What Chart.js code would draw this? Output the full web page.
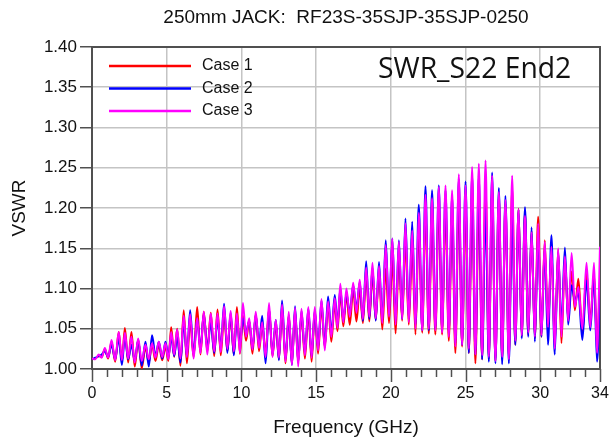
<!DOCTYPE html>
<html>
<head>
<meta charset="utf-8">
<script src="https://cdn.jsdelivr.net/npm/chart.js@4/dist/chart.umd.min.js"></script>
<style>
  html, body { margin: 0; padding: 0; background: #ffffff; }
  #wrap { width: 616px; height: 440px; }
</style>
</head>
<body>
<div id="wrap"><canvas id="c" width="616" height="440"></canvas></div>
<script>
// ---------- DATA ----------
const chartTitle = '250mm JACK:  RF23S-35SJP-35SJP-0250';
const plotLabel = 'SWR_S22 End2';
const xTitle = 'Frequency (GHz)';
const yTitle = 'VSWR';
const seriesNames = ['Case 1', 'Case 2', 'Case 3'];

const freqGHz = [
  0.00,0.22,0.45,0.65,0.86,1.08,1.31,1.55,1.79,2.00,
  2.20,2.42,2.64,2.86,3.09,3.33,3.58,3.80,4.02,4.25,
  4.47,4.70,4.92,5.11,5.30,5.50,5.70,5.92,6.14,6.35,
  6.57,6.80,7.04,7.26,7.48,7.72,7.95,8.18,8.40,8.62,
  8.84,9.06,9.28,9.49,9.70,9.90,10.10,10.31,10.52,10.74,
  10.96,11.18,11.39,11.62,11.85,12.08,12.30,12.51,12.72,12.95,
  13.17,13.38,13.59,13.80,14.02,14.25,14.48,14.70,14.91,15.13,
  15.36,15.58,15.80,16.02,16.25,16.43,16.62,16.82,17.03,17.25,
  17.48,17.70,17.92,18.13,18.35,18.56,18.77,18.99,19.21,19.43,
  19.66,19.88,20.10,20.32,20.54,20.76,20.98,21.20,21.43,21.65,
  21.87,22.10,22.32,22.54,22.76,22.98,23.21,23.43,23.66,23.88,
  24.10,24.32,24.55,24.77,25.00,25.22,25.44,25.66,25.89,26.11,
  26.34,26.56,26.78,27.00,27.23,27.45,27.67,27.90,28.12,28.33,
  28.55,28.76,28.98,29.20,29.42,29.64,29.86,30.08,30.30,30.52,
  30.75,30.97,31.20,31.42,31.65,31.87,32.10,32.32,32.55,32.82,
  33.10,33.35,33.60,33.80,34.00
];

// Case 1 (red)
const case1 = [
  1.012,1.013,1.016,1.015,1.025,1.013,1.034,1.009,1.046,1.009,
  1.051,1.008,1.046,1.003,1.036,1.001,1.027,1.008,1.030,1.010,
  1.030,1.011,1.028,1.010,1.052,1.015,1.050,1.004,1.073,1.007,
  1.060,1.015,1.077,1.018,1.071,1.022,1.070,1.016,1.074,1.017,
  1.068,1.022,1.065,1.018,1.077,1.019,1.066,1.035,1.060,1.019,
  1.068,1.022,1.055,1.020,1.075,1.016,1.056,1.012,1.075,1.007,
  1.067,1.007,1.072,1.009,1.068,1.013,1.070,1.009,1.071,1.019,
  1.078,1.027,1.080,1.034,1.082,1.047,1.095,1.053,1.092,1.055,
  1.098,1.059,1.100,1.057,1.116,1.059,1.118,1.061,1.120,1.049,
  1.125,1.057,1.135,1.044,1.140,1.060,1.160,1.055,1.150,1.043,
  1.175,1.045,1.195,1.044,1.190,1.043,1.205,1.043,1.200,1.035,
  1.195,1.020,1.210,1.028,1.205,1.020,1.215,1.007,1.208,1.012,
  1.226,1.012,1.225,1.010,1.215,1.012,1.205,1.015,1.225,1.030,
  1.199,1.040,1.195,1.042,1.172,1.038,1.189,1.040,1.160,1.048,
  1.150,1.030,1.148,1.032,1.138,1.062,1.121,1.073,1.112,1.045,
  1.120,1.060,1.118,1.030,1.110
];

// Case 2 (blue)
const case2 = [
  1.012,1.014,1.016,1.018,1.022,1.015,1.030,1.012,1.038,1.005,
  1.040,1.012,1.030,1.010,1.036,1.004,1.034,1.003,1.042,1.016,
  1.034,1.013,1.034,1.015,1.040,1.016,1.040,1.008,1.058,1.016,
  1.073,1.018,1.062,1.025,1.068,1.026,1.057,1.020,1.062,1.026,
  1.081,1.020,1.070,1.017,1.062,1.030,1.063,1.045,1.060,1.025,
  1.067,1.030,1.066,1.007,1.075,1.018,1.061,1.011,1.085,1.012,
  1.066,1.005,1.078,1.008,1.072,1.020,1.075,1.016,1.073,1.026,
  1.085,1.028,1.090,1.045,1.092,1.055,1.100,1.060,1.094,1.070,
  1.104,1.075,1.108,1.060,1.134,1.062,1.126,1.060,1.133,1.060,
  1.160,1.068,1.162,1.060,1.160,1.062,1.187,1.062,1.183,1.055,
  1.204,1.048,1.227,1.048,1.222,1.050,1.228,1.048,1.222,1.045,
  1.215,1.032,1.236,1.030,1.233,1.020,1.242,1.018,1.240,1.012,
  1.200,1.009,1.244,1.007,1.225,1.006,1.215,1.007,1.197,1.030,
  1.198,1.038,1.201,1.040,1.176,1.034,1.170,1.040,1.150,1.030,
  1.166,1.018,1.145,1.053,1.151,1.055,1.104,1.085,1.095,1.036,
  1.110,1.048,1.115,1.009,1.100
];

// Case 3 (magenta)
const case3 = [
  1.013,1.012,1.018,1.014,1.026,1.014,1.036,1.011,1.046,1.011,
  1.045,1.013,1.040,1.008,1.038,1.010,1.030,1.012,1.032,1.014,
  1.034,1.015,1.032,1.012,1.046,1.018,1.049,1.013,1.066,1.015,
  1.068,1.013,1.063,1.020,1.071,1.018,1.069,1.022,1.069,1.021,
  1.078,1.025,1.072,1.022,1.069,1.020,1.082,1.040,1.063,1.024,
  1.071,1.026,1.058,1.015,1.082,1.015,1.061,1.014,1.080,1.009,
  1.071,1.005,1.076,1.003,1.075,1.017,1.077,1.014,1.077,1.023,
  1.087,1.023,1.084,1.040,1.088,1.051,1.106,1.058,1.100,1.065,
  1.107,1.070,1.111,1.062,1.126,1.065,1.132,1.063,1.128,1.057,
  1.154,1.065,1.162,1.055,1.158,1.062,1.181,1.058,1.172,1.050,
  1.194,1.048,1.216,1.050,1.212,1.048,1.226,1.045,1.228,1.040,
  1.222,1.028,1.242,1.030,1.228,1.025,1.251,1.018,1.255,1.017,
  1.259,1.015,1.240,1.010,1.220,1.015,1.210,1.012,1.240,1.035,
  1.198,1.042,1.190,1.045,1.170,1.040,1.181,1.042,1.158,1.052,
  1.152,1.025,1.150,1.040,1.140,1.060,1.144,1.077,1.102,1.050,
  1.132,1.052,1.132,1.020,1.152
];

const yTicks = [1.00,1.05,1.10,1.15,1.20,1.25,1.30,1.35,1.40];
const xTicks = [0,1,2,3,4,5,6,7,8,9,10,11,12,13,14,15,16,17,18,19,20,21,22,23,24,25,26,27,28,29,30,31,32,33,34];
const xLabelTicks = [0,5,10,15,20,25,30,34];

// ---------- STYLE ----------
const colors = ['#ff0000', '#0000ff', '#ff00ff'];
const FONT = '"Liberation Sans", Arial, sans-serif';

function toPoints(vals) { return freqGHz.map((f, i) => ({ x: f, y: vals[i] })); }
const seriesValues = [case1, case2, case3];

const datasets = seriesValues.map((vals, i) => ({
  label: seriesNames[i],
  data: toPoints(vals),
  borderColor: colors[i],
  backgroundColor: colors[i],
  borderWidth: 2,
  pointRadius: 0,
  fill: false,
  cubicInterpolationMode: 'monotone',
  order: 3 - i
}));

const decor = {
  id: 'decor',
  beforeDatasetsDraw(chart) {
    const { ctx, chartArea: a } = chart;
    ctx.save();
    ctx.strokeStyle = '#505050';
    ctx.lineWidth = 2;
    ctx.strokeRect(a.left, a.top, a.right - a.left, a.bottom - a.top);
    ctx.restore();
  },
  afterDraw(chart) {
    const { ctx, chartArea: a } = chart;
    const xs = chart.scales.x;
    ctx.save();
    // x tick marks
    ctx.strokeStyle = '#505050';
    ctx.lineWidth = 1.5;
    xTicks.forEach(v => {
      const px = Math.round(xs.getPixelForValue(v)) + 0.5;
      const len = xLabelTicks.includes(v) ? 13 : 8;
      ctx.beginPath();
      ctx.moveTo(px, a.bottom);
      ctx.lineTo(px, a.bottom + len);
      ctx.stroke();
    });
    // legend
    ctx.font = '16px ' + FONT;
    ctx.textBaseline = 'middle';
    ctx.textAlign = 'left';
    for (let i = 0; i < seriesNames.length; i++) {
      const y = a.top + 19 + i * 22.5;
      ctx.strokeStyle = colors[i];
      ctx.lineWidth = 2.5;
      ctx.beginPath();
      ctx.moveTo(a.left + 17, y);
      ctx.lineTo(a.left + 99, y);
      ctx.stroke();
      ctx.fillStyle = '#111';
      ctx.fillText(seriesNames[i], a.left + 110, y);
    }
    // plot label, fitted to its box in the reference
    ctx.font = '28px "Open Sans", sans-serif';
    const w = ctx.measureText(plotLabel).width;
    const fs = 28 * 193 / w;
    ctx.font = fs.toFixed(1) + 'px "Open Sans", sans-serif';
    ctx.textAlign = 'left';
    ctx.textBaseline = 'alphabetic';
    ctx.fillStyle = '#111';
    ctx.fillText(plotLabel, a.left + 286, a.top + 31);
    // title
    const cx = (a.left + a.right) / 2;
    ctx.font = '19px ' + FONT;
    ctx.textAlign = 'center';
    ctx.textBaseline = 'middle';
    ctx.fillText(chartTitle, cx, 18);
    // axis titles
    ctx.font = '19px ' + FONT;
    ctx.fillText(xTitle, cx, 428);
    ctx.translate(20, (a.top + a.bottom) / 2);
    ctx.rotate(-Math.PI / 2);
    ctx.fillText(yTitle, 0, 0);
    ctx.restore();
  }
};

new Chart(document.getElementById('c'), {
  type: 'line',
  data: { datasets },
  options: {
    responsive: false,
    animation: false,
    events: [],
    layout: { padding: { left: 0, right: 16, top: 47, bottom: 0 } },
    plugins: { legend: { display: false }, title: { display: false }, tooltip: { enabled: false } },
    scales: {
      x: {
        type: 'linear',
        min: 0, max: 34,
        afterBuildTicks: s => { s.ticks = xTicks.map(v => ({ value: v })); },
        afterFit: s => { s.height = 71; s.paddingLeft = 0; s.paddingRight = 0; },
        border: { display: false },
        grid: {
          drawTicks: false,
          lineWidth: 1.5,
          color: c => (c.tick && xLabelTicks.includes(c.tick.value) && c.tick.value > 0 && c.tick.value < 34) ? '#c4c4c4' : 'rgba(0,0,0,0)'
        },
        ticks: {
          autoSkip: false, maxRotation: 0, padding: 15,
          color: '#111',
          font: { family: FONT, size: 16 },
          callback: v => xLabelTicks.includes(v) ? String(v) : ''
        }
      },
      y: {
        type: 'linear',
        min: 1.0, max: 1.4,
        afterBuildTicks: s => { s.ticks = yTicks.map(v => ({ value: v })); },
        afterFit: s => { s.width = 92; s.paddingTop = 0; s.paddingBottom = 0; },
        border: { display: false },
        grid: {
          drawTicks: true, tickLength: 12, lineWidth: 1.5,
          color: '#c4c4c4', tickColor: '#505050'
        },
        ticks: {
          padding: 3,
          color: '#111',
          font: { family: FONT, size: 17 },
          callback: v => Number(v).toFixed(2)
        }
      }
    }
  },
  plugins: [decor]
});
</script>
</body>
</html>
